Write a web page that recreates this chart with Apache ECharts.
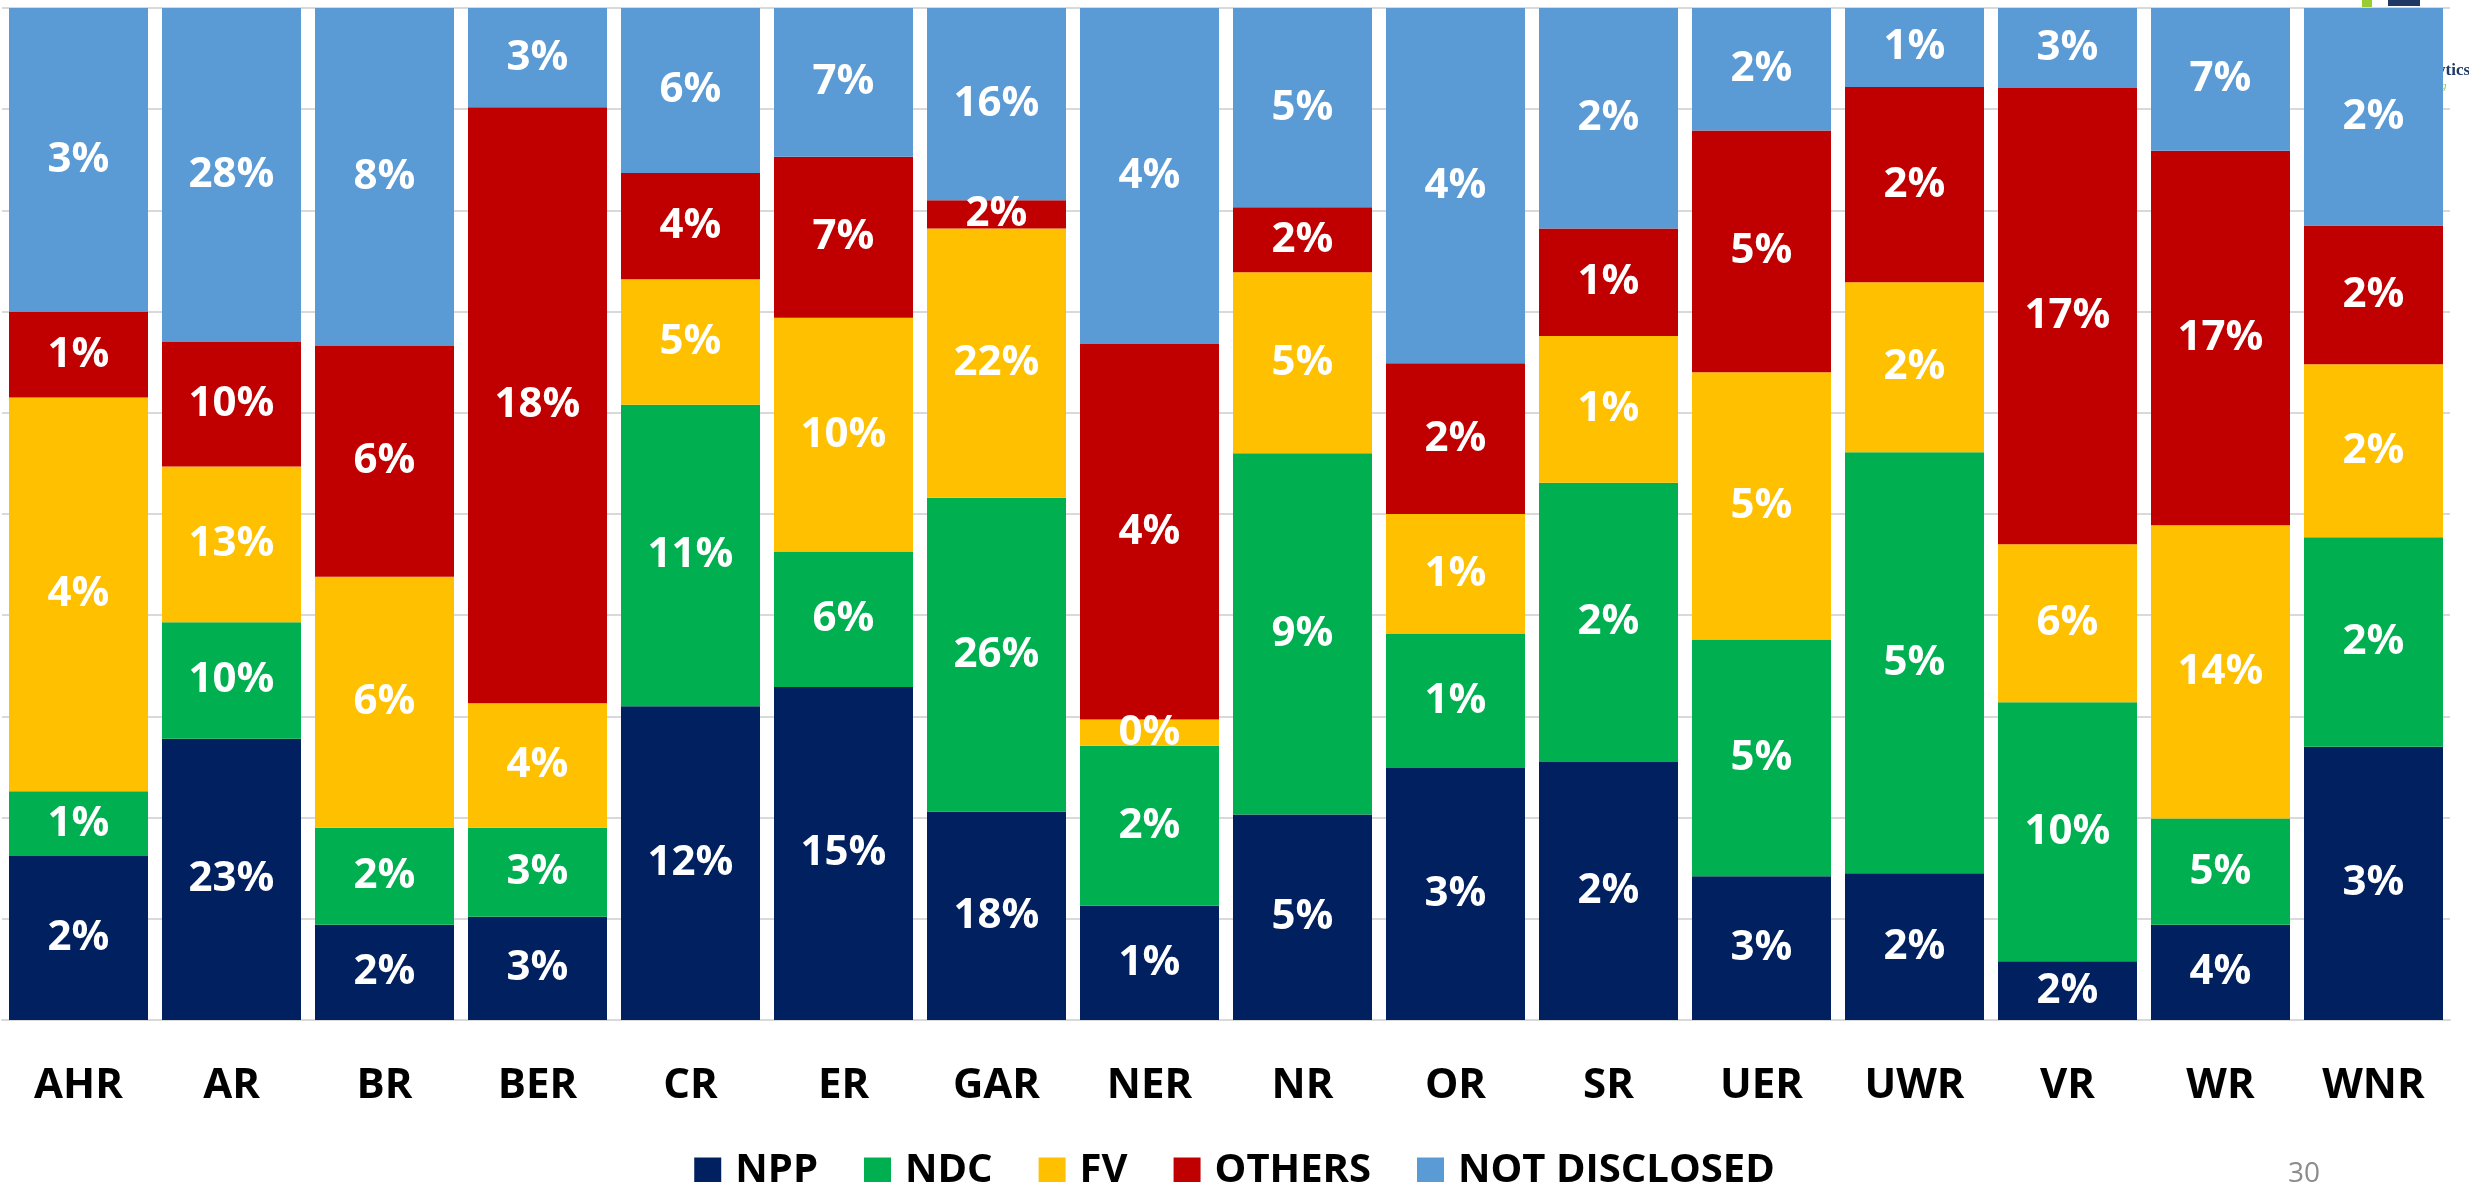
<!DOCTYPE html>
<html>
<head>
<meta charset="utf-8">
<title>Regional share</title>
<script src="https://cdn.jsdelivr.net/npm/echarts@6/dist/echarts.min.js"></script>
<style>
  html, body { margin: 0; padding: 0; background: #fff; }
  #chart { width: 2469px; height: 1182px; }
</style>
</head>
<body>
<div id="chart"></div>
<script>
// regions on the x axis
var regions = ['AHR', 'AR', 'BR', 'BER', 'CR', 'ER', 'GAR', 'NER', 'NR', 'OR', 'SR', 'UER', 'UWR', 'VR', 'WR', 'WNR']

// bar heights (share inside each region, stacks to 100)
var nppShare = [16.2, 27.8, 9.4, 10.2, 31.0, 32.9, 20.6, 11.3, 20.3, 24.9, 25.5, 14.2, 14.5, 5.8, 9.4, 27.0]
var ndcShare = [6.4, 11.5, 9.6, 8.8, 29.8, 13.4, 31.0, 15.8, 35.7, 13.3, 27.6, 23.4, 41.6, 25.6, 10.5, 20.7]
var fvShare = [38.9, 15.4, 24.8, 12.3, 12.4, 23.1, 26.6, 2.6, 17.9, 11.8, 14.5, 26.4, 16.8, 15.6, 29.0, 17.1]
var othersShare = [8.5, 12.3, 22.8, 58.9, 10.5, 15.9, 2.8, 37.1, 6.4, 14.9, 10.6, 23.9, 19.3, 45.1, 37.0, 13.7]
var notDisclosedShare = [30.0, 33.0, 33.4, 9.8, 16.3, 14.7, 19.0, 33.2, 19.7, 35.1, 21.8, 12.1, 7.8, 7.9, 14.1, 21.5]

// numbers printed on the segments (%)
var nppLabel = [2, 23, 2, 3, 12, 15, 18, 1, 5, 3, 2, 3, 2, 2, 4, 3]
var ndcLabel = [1, 10, 2, 3, 11, 6, 26, 2, 9, 1, 2, 5, 5, 10, 5, 2]
var fvLabel = [4, 13, 6, 4, 5, 10, 22, 0, 5, 1, 1, 5, 2, 6, 14, 2]
var othersLabel = [1, 10, 6, 18, 4, 7, 2, 4, 2, 2, 1, 5, 2, 17, 17, 2]
var notDisclosedLabel = [3, 28, 8, 3, 6, 7, 16, 4, 5, 4, 2, 2, 1, 3, 7, 2]

var FONT = '"Open Sans", "Noto Sans", sans-serif'

function makeSeries (name, color, values, labels) {
  return {
    name: name,
    type: 'bar',
    stack: 'total',
    barWidth: 139,
    itemStyle: { color: color },
    label: {
      show: true,
      position: 'inside',
      color: '#fff',
      fontFamily: FONT,
      fontWeight: 'bold',
      fontSize: 42,
      formatter: function (p) {
        return labels[p.dataIndex] + '%'
      }
    },
    data: values
  }
}

var chart = echarts.init(document.getElementById('chart'))
var option = {
  animation: false,
  grid: {
    left: 2,
    right: 19,
    top: 8,
    bottom: 162
  },
  legend: {
    left: 'center',
    top: 1146,
    icon: 'rect',
    itemWidth: 27,
    itemHeight: 27,
    itemGap: 46,
    textStyle: {
      color: '#000',
      fontFamily: FONT,
      fontWeight: 'bold',
      fontSize: 40,
      lineHeight: 27,
      padding: [0, 0, 0, 9]
    },
    data: ['NPP', 'NDC', 'FV', 'OTHERS', 'NOT DISCLOSED']
  },
  xAxis: {
    type: 'category',
    data: regions,
    axisLine: { lineStyle: { color: '#d9d9d9', width: 2 } },
    axisTick: { show: false },
    axisLabel: {
      color: '#000',
      fontFamily: FONT,
      fontWeight: 'bold',
      fontSize: 42,
      margin: 45
    }
  },
  yAxis: {
    type: 'value',
    min: 0,
    max: 100,
    interval: 10,
    axisLabel: { show: false },
    axisLine: { show: false },
    axisTick: { show: false },
    splitLine: { lineStyle: { color: '#d9d9d9', width: 2 } }
  },
  series: [
    makeSeries('NPP', '#002060', nppShare, nppLabel),
    makeSeries('NDC', '#00B050', ndcShare, ndcLabel),
    makeSeries('FV', '#FFC000', fvShare, fvLabel),
    makeSeries('OTHERS', '#C00000', othersShare, othersLabel),
    makeSeries('NOT DISCLOSED', '#5B9BD5', notDisclosedShare, notDisclosedLabel)
  ],
  // bits of the slide around the chart: logo corner and page number
  graphic: [
    { type: 'rect', left: 2362, top: 0, z: -1, shape: { width: 10, height: 7 }, style: { fill: '#9ACD32' } },
    { type: 'rect', left: 2388, top: 0, z: -1, shape: { width: 32, height: 6 }, style: { fill: '#1F3864' } },
    { type: 'text', left: 2437, top: 62, style: { text: 'ytics', fill: '#1F3864', font: 'bold 17px "Liberation Serif", serif' } },
    { type: 'text', left: 2441, top: 81, style: { text: 'g', fill: '#8CC63F', font: 'italic 11px "Liberation Serif", serif' } },
    { type: 'text', left: 2288, top: 1160, style: { text: '30', fill: '#8c8c8c', font: '28px "Open Sans", sans-serif' } }
  ]
}
chart.setOption(option)
</script>
</body>
</html>
